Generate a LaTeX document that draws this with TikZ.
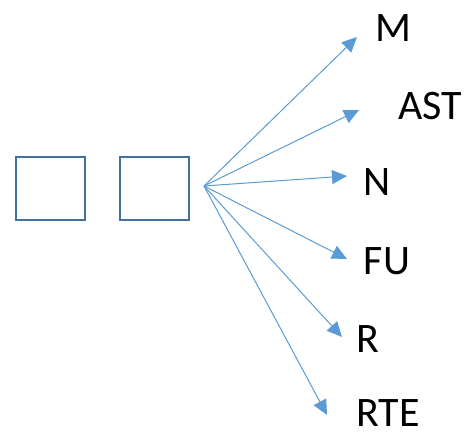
\documentclass[tikz,border=0pt]{standalone}
\usepackage{fontspec}
\setmainfont{Carlito}
\usetikzlibrary{positioning,arrows.meta}

\definecolor{boxblue}{HTML}{41719C}
\definecolor{arrowblue}{HTML}{5B9BD5}

\begin{document}
\begin{tikzpicture}[
    x=1pt, y=-1pt,
    sbox/.style={
        draw=boxblue,
        line width=2pt,
        inner sep=0pt,
        minimum width=69pt,
        minimum height=63pt
        },
    lbl/.style={
        inner sep=0pt,
        font=\fontsize{42}{50}\selectfont
        },
    arr/.style={
        draw=arrowblue,
        line width=1pt,
        -{Triangle[length=15pt,width=14pt]}
        },
]
\useasboundingbox (0,0) rectangle (469,433);

\node[sbox](b1) at (50.5,188.5){};
\node[sbox](b2) at (154.5,188.5){};

\coordinate (o) at (204,186);

\node[lbl](m) at (393,28){M};
\node[lbl](ast) at (430,106){AST};
\node[lbl](n) at (377,182){N};
\node[lbl](fu) at (387,261){FU};
\node[lbl](r) at (368,339){R};
\node[lbl](rte) at (388,413){RTE};

\coordinate (tm) at (357,37);
\coordinate (tast) at (359,110);
\coordinate (tn) at (347,176);
\coordinate (tfu) at (347,259);
\coordinate (tr) at (342,337);
\coordinate (trte) at (327,415);

\draw[arr] (o) -- (tm);
\draw[arr] (o) -- (tast);
\draw[arr] (o) -- (tn);
\draw[arr] (o) -- (tfu);
\draw[arr] (o) -- (tr);
\draw[arr] (o) -- (trte);

\end{tikzpicture}
\end{document}
